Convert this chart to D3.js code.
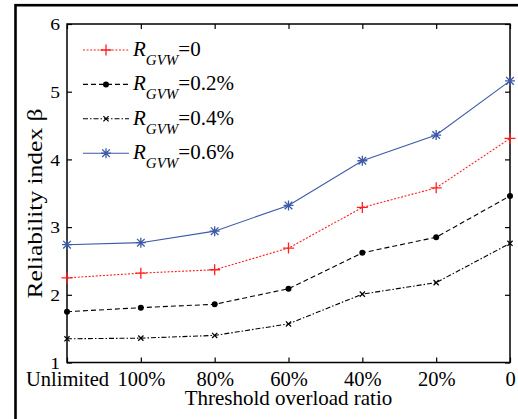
<!DOCTYPE html>
<html>
<head>
<meta charset="utf-8">
<script src="https://cdn.jsdelivr.net/npm/d3@7/dist/d3.min.js"></script>
<style>
  html, body { margin: 0; padding: 0; background: #fff; }
  svg { display: block; }
</style>
</head>
<body>
<svg id="chart" width="518" height="419"></svg>
<script>
// Threshold overload ratio categories
const categories = ["Unlimited", "100%", "80%", "60%", "40%", "20%", "0"];

// Reliability index β for each GVW ratio
const r0   = [2.25, 2.32, 2.37, 2.69, 3.29, 3.58, 4.31];
const r02  = [1.75, 1.81, 1.86, 2.09, 2.62, 2.85, 3.46];
const r04  = [1.35, 1.36, 1.40, 1.57, 2.01, 2.18, 2.76];
const r06  = [2.74, 2.77, 2.94, 3.32, 3.98, 4.36, 5.16];

const seriesNames = ["0", "0.2%", "0.4%", "0.6%"];
const yTicks = [1, 2, 3, 4, 5, 6];

const FONT = "Liberation Serif";

const series = [
  { name: seriesNames[0], values: r0,  color: "#ff2020", dash: "2,1.6", marker: "plus" },
  { name: seriesNames[1], values: r02, color: "#000",    dash: "5,3",   marker: "dot" },
  { name: seriesNames[2], values: r04, color: "#000",    dash: "5,2,1.5,2", marker: "cross" },
  { name: seriesNames[3], values: r06, color: "#3d5aa8", dash: null,    marker: "star" }
];

const svg = d3.select("#chart").attr("font-family", FONT);

// outer frame (runs off the right and bottom edges)
svg.append("rect")
  .attr("x", 15.5).attr("y", 5.2)
  .attr("width", 700).attr("height", 700)
  .attr("fill", "none").attr("stroke", "#000").attr("stroke-width", 2.6);

const plotL = 67, plotR = 510, plotT = 24, plotB = 362.5;

const x = d3.scalePoint().domain(categories).range([plotL, plotR]).padding(0);
const y = d3.scaleLinear().domain([1, 6]).range([plotB, plotT]);

// plot box
svg.append("rect")
  .attr("x", plotL).attr("y", plotT)
  .attr("width", plotR - plotL).attr("height", plotB - plotT)
  .attr("fill", "none").attr("stroke", "#000").attr("stroke-width", 1.5);

// axes with inward ticks
const tickLen = 5;
const axLeft = d3.axisLeft(y).tickValues(yTicks).tickSize(-tickLen).tickPadding(7).tickFormat(d3.format("d"));
const axRight = d3.axisRight(y).tickValues(yTicks).tickSize(-tickLen).tickFormat("");
const axBottom = d3.axisBottom(x).tickSize(-tickLen).tickPadding(9);
const axTop = d3.axisTop(x).tickSize(-tickLen).tickFormat("");

function styleAxis(g) {
  g.attr("font-family", FONT);
  g.select(".domain").remove();
  g.selectAll(".tick line").attr("stroke", "#000").attr("stroke-width", 1.2);
}

const gl = svg.append("g").attr("transform", `translate(${plotL},0)`).call(axLeft).call(styleAxis);
gl.selectAll(".tick text")
  .attr("font-family", FONT)
  .attr("font-size", 17).attr("fill", "#000").attr("dy", "0.34em")
  .attr("transform", "scale(1.15,1)")
  .attr("x", -7 / 1.15);

svg.append("g").attr("transform", `translate(${plotR},0)`).call(axRight).call(styleAxis);
svg.append("g").attr("transform", `translate(0,${plotT})`).call(axTop).call(styleAxis);

const gb = svg.append("g").attr("transform", `translate(0,${plotB})`).call(axBottom).call(styleAxis);
gb.selectAll(".tick text")
  .attr("font-family", FONT)
  .attr("font-size", 20.5).attr("fill", "#000").attr("dy", "0.72em");

// axis titles
svg.append("text")
  .attr("font-family", FONT)
  .attr("x", 288.5).attr("y", 405)
  .attr("text-anchor", "middle")
  .attr("font-size", 21)
  .text("Threshold overload ratio");

svg.append("text")
  .attr("font-family", FONT)
  .attr("transform", "translate(42,203.5) rotate(-90)")
  .attr("text-anchor", "middle")
  .attr("font-size", 21)
  .attr("textLength", 190).attr("lengthAdjust", "spacingAndGlyphs")
  .text("Reliability index β");

// markers
function drawMarker(g, type, color, cx, cy) {
  if (type === "plus") {
    g.append("path").attr("d", `M${cx - 5.5},${cy}H${cx + 5.5}M${cx},${cy - 5.5}V${cy + 5.5}`)
      .attr("stroke", color).attr("stroke-width", 1.3).attr("fill", "none");
  } else if (type === "dot") {
    g.append("circle").attr("cx", cx).attr("cy", cy).attr("r", 3).attr("fill", color);
  } else if (type === "cross") {
    const s = 2.6;
    g.append("path").attr("d", `M${cx - s},${cy - s}L${cx + s},${cy + s}M${cx - s},${cy + s}L${cx + s},${cy - s}`)
      .attr("stroke", color).attr("stroke-width", 1.2).attr("fill", "none");
  } else if (type === "star") {
    const s = 5, d = 3.8;
    g.append("path").attr("d",
      `M${cx - s},${cy}H${cx + s}M${cx},${cy - s}V${cy + s}` +
      `M${cx - d},${cy - d}L${cx + d},${cy + d}M${cx - d},${cy + d}L${cx + d},${cy - d}`)
      .attr("stroke", color).attr("stroke-width", 1.3).attr("fill", "none");
  }
}

const line = d3.line().x((d, i) => x(categories[i])).y(d => y(d));

series.forEach(s => {
  const g = svg.append("g");
  g.append("path")
    .attr("d", line(s.values))
    .attr("fill", "none").attr("stroke", s.color).attr("stroke-width", 1.1)
    .attr("stroke-dasharray", s.dash);
  s.values.forEach((v, i) => drawMarker(g, s.marker, s.color, x(categories[i]), y(v)));
});

// legend
const legend = svg.append("g").attr("font-family", FONT);
series.forEach((s, i) => {
  const ly = 50 + i * 34.4;
  legend.append("line")
    .attr("x1", 83).attr("x2", 129).attr("y1", ly).attr("y2", ly)
    .attr("stroke", s.color).attr("stroke-width", 1.1)
    .attr("stroke-dasharray", s.dash);
  drawMarker(legend, s.marker, s.color, 106, ly);
  const t = legend.append("text").attr("font-family", FONT)
    .attr("x", 133).attr("y", ly + 6).attr("font-size", 21);
  t.append("tspan").attr("font-style", "italic").text("R");
  t.append("tspan").attr("font-style", "italic").attr("font-size", 15).attr("dy", 9).text("GVW");
  t.append("tspan").attr("dy", -9).text("=" + s.name);
});
</script>
</body>
</html>
